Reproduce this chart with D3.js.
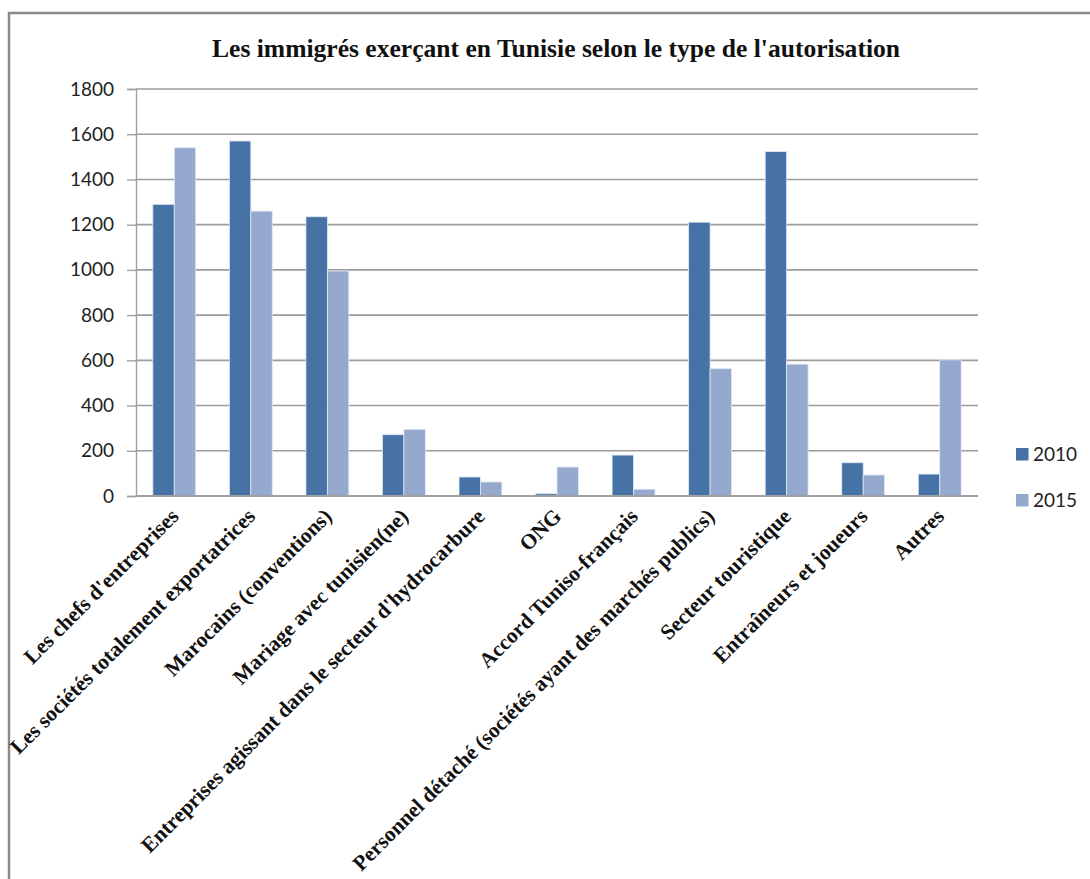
<!DOCTYPE html>
<html>
<head>
<meta charset="utf-8">
<script src="https://cdn.jsdelivr.net/npm/d3@7"></script>
<style>
  html, body { margin: 0; padding: 0; background: #fff; }
  svg { display: block; }
</style>
</head>
<body>
<svg id="chart" width="1090" height="879"></svg>
<script>
// Types d'autorisation (catégories de l'axe horizontal)
const categories = [
  "Les chefs d'entreprises",
  "Les sociétés totalement exportatrices",
  "Marocains (conventions)",
  "Mariage avec tunisien(ne)",
  "Entreprises agissant dans le secteur d'hydrocarbure",
  "ONG",
  "Accord Tuniso-français",
  "Personnel détaché (sociétés ayant des marchés publics)",
  "Secteur touristique",
  "Entraîneurs et joueurs",
  "Autres"
];
const seriesNames = ["2010", "2015"];
const values2010 = [1290, 1570, 1235, 271, 84, 10, 181, 1211, 1523, 147, 97];
const values2015 = [1540, 1260, 995, 295, 62, 128, 30, 563, 583, 93, 602];
const yTicks = [0, 200, 400, 600, 800, 1000, 1200, 1400, 1600, 1800];
const title = "Les immigrés  exerçant en Tunisie selon le type de l'autorisation";

const colors = { "2010": "#4672a6", "2015": "#95a9cf" };

const svg = d3.select("#chart");

// cadre du graphique
svg.append("path")
  .attr("d", "M9,879 V13 H1090")
  .attr("fill", "none")
  .attr("stroke", "#8a8a8a")
  .attr("stroke-width", 2.5);

const plot = { left: 136, right: 978, top: 89, bottom: 496 };

const x0 = d3.scaleBand()
  .domain(categories)
  .range([plot.left, plot.right])
  .paddingInner(0.44)
  .paddingOuter(0.22);

const x1 = d3.scaleBand()
  .domain(seriesNames)
  .range([0, x0.bandwidth()]);

const y = d3.scaleLinear()
  .domain([0, 1800])
  .range([plot.bottom, plot.top]);

// lignes de quadrillage
svg.append("g")
  .selectAll("line")
  .data(yTicks.filter(d => d > 0))
  .join("line")
  .attr("x1", plot.left)
  .attr("x2", plot.right)
  .attr("y1", d => y(d))
  .attr("y2", d => y(d))
  .attr("stroke", "#9c9c9c")
  .attr("stroke-width", 1.6);

// axe vertical
const yAxis = d3.axisLeft(y)
  .tickValues(yTicks)
  .tickSize(9)
  .tickPadding(13)
  .tickFormat(d3.format("d"));

const gy = svg.append("g")
  .attr("transform", `translate(${plot.left},0)`)
  .call(yAxis);
gy.select(".domain").attr("stroke", "#a0a0a0").attr("stroke-width", 1.4);
gy.selectAll(".tick line").attr("stroke", "#a0a0a0").attr("stroke-width", 1.4);
gy.selectAll(".tick text")
  .attr("font-family", "Lato, 'Open Sans', sans-serif")
  .attr("font-size", 19)
  .attr("fill", "#222");

// barres
const rows = categories.map((c, i) => ({ cat: c, vals: [
  { key: "2010", value: values2010[i] },
  { key: "2015", value: values2015[i] }
]}));

svg.append("g")
  .selectAll("g")
  .data(rows)
  .join("g")
  .attr("transform", d => `translate(${x0(d.cat)},0)`)
  .selectAll("rect")
  .data(d => d.vals)
  .join("rect")
  .attr("x", d => x1(d.key))
  .attr("width", x1.bandwidth())
  .attr("y", d => y(d.value))
  .attr("height", d => y(0) - y(d.value))
  .attr("fill", d => colors[d.key])
  .attr("stroke", "#dfe7f3")
  .attr("stroke-width", 0.8);

// axe horizontal
svg.append("line")
  .attr("x1", plot.left)
  .attr("x2", plot.right)
  .attr("y1", y(0))
  .attr("y2", y(0))
  .attr("stroke", "#a0a0a0")
  .attr("stroke-width", 1.8);

// étiquettes des catégories, inclinées à 45°
svg.append("g")
  .selectAll("text")
  .data(categories)
  .join("text")
  .attr("transform", d => `translate(${x0(d) + x0.bandwidth() / 2 - 5},${plot.bottom + 11}) rotate(-45)`)
  .attr("text-anchor", "end")
  .attr("dy", "0.7em")
  .attr("font-family", "'Liberation Serif', 'Times New Roman', serif")
  .attr("font-weight", "bold")
  .attr("font-size", 21.5)
  .attr("fill", "#111")
  .text(d => d);

// titre
svg.append("text")
  .attr("x", 556)
  .attr("y", 57)
  .attr("text-anchor", "middle")
  .attr("font-family", "'Liberation Serif', 'Times New Roman', serif")
  .attr("font-weight", "bold")
  .attr("font-size", 25)
  .attr("textLength", 688)
  .attr("lengthAdjust", "spacingAndGlyphs")
  .attr("fill", "#111")
  .text(title);

// légende
const legend = svg.append("g")
  .selectAll("g")
  .data(seriesNames)
  .join("g")
  .attr("transform", (d, i) => `translate(1016,${448 + i * 46})`);
legend.append("rect")
  .attr("width", 12.5)
  .attr("height", 12.5)
  .attr("fill", d => colors[d]);
legend.append("text")
  .attr("x", 17)
  .attr("y", 6.5)
  .attr("dy", "0.35em")
  .attr("font-family", "Lato, 'Open Sans', sans-serif")
  .attr("font-size", 19)
  .attr("fill", "#222")
  .text(d => d);
</script>
</body>
</html>
